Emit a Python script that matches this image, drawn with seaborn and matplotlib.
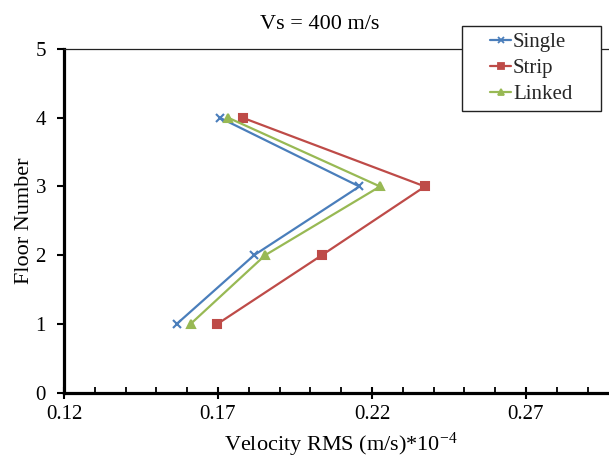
import matplotlib
matplotlib.use("Agg")
import matplotlib.pyplot as plt
from matplotlib.ticker import MultipleLocator
from matplotlib.patches import Rectangle
from matplotlib.lines import Line2D
import seaborn as sns
import pandas as pd

# ---- data ----
floors = [1, 2, 3, 4]
single = [0.1566, 0.1817, 0.2159, 0.1706]
strip = [0.1698, 0.2037, 0.2372, 0.1780]
linked = [0.1611, 0.1853, 0.2226, 0.1733]
series_names = ["Single", "Strip", "Linked"]
x_ticks = [0.12, 0.17, 0.22, 0.27]
x_tick_labels = ["0.12", "0.17", "0.22", "0.27"]
y_ticks = [0, 1, 2, 3, 4, 5]
title = "Vs = 400 m/s"
x_label = "Velocity RMS (m/s)*10$^{\\mathrm{-4}}$"
y_label = "Floor Number"

sns.set_theme(style="white")
plt.rcParams["font.family"] = ["Liberation Serif", "DejaVu Serif"]
plt.rcParams["mathtext.fontset"] = "custom"
plt.rcParams["mathtext.rm"] = "Liberation Serif"
plt.rcParams["mathtext.it"] = "Liberation Serif:italic"

W, H = 609, 459
fig = plt.figure(figsize=(W / 100, H / 100), dpi=100)
left, right, top, bottom = 64, 618.4, 49, 392.7
ax = fig.add_axes([left / W, 1 - bottom / H, (right - left) / W, (bottom - top) / H])

colors = {"Single": "#4A7EBB", "Strip": "#BE4B48", "Linked": "#98B954"}
markers = {"Single": "x", "Strip": "s", "Linked": "^"}
msizes = {"Single": 6, "Strip": 5.5, "Linked": 6}
values = {"Single": single, "Strip": strip, "Linked": linked}

for name in series_names:
    df = pd.DataFrame({"v": values[name], "floor": floors})
    sns.lineplot(data=df, x="v", y="floor", sort=False, ax=ax, color=colors[name],
                 marker=markers[name], markersize=msizes[name], markeredgewidth=1.5,
                 markeredgecolor=colors[name], linewidth=1.6, label=name, legend=False,
                 clip_on=False, zorder=3)

ax.set_xlim(0.12, 0.30)
ax.set_ylim(0, 5)
ax.set_xticks(x_ticks)
ax.set_xticklabels(x_tick_labels)
ax.xaxis.set_minor_locator(MultipleLocator(0.01))
ax.set_yticks(y_ticks)

for s in ["left", "bottom"]:
    ax.spines[s].set_linewidth(2.3)
    ax.spines[s].set_color("black")
ax.spines["top"].set_linewidth(0.9)
ax.spines["top"].set_color("#222222")
ax.spines["right"].set_visible(False)
ax.grid(False)

ax.tick_params(axis="x", which="major", direction="inout", length=9, width=1.5,
               color="black", labelsize=15, pad=4.5, labelcolor="black", bottom=True)
ax.tick_params(axis="x", which="minor", direction="in", length=4.5, width=1.3,
               color="black", bottom=True)
ax.tick_params(axis="y", which="major", direction="out", length=5, width=1.5,
               color="black", labelsize=15, pad=8, labelcolor="black", left=True)

ax.set_xlabel(x_label, fontsize=16, color="black")
ax.xaxis.set_label_coords(0.5, -0.11)
ax.set_ylabel(y_label, fontsize=16, color="black")
ax.yaxis.set_label_coords(-0.055, 0.5)

fig.text(320 / W, 1 - 29 / H, title, ha="center", va="baseline", fontsize=16, color="black")

# legend box
bx0, bx1, by0, by1 = 461.7, 601, 25.7, 110.7
fig.patches.append(Rectangle((bx0 / W, 1 - by1 / H), (bx1 - bx0) / W, (by1 - by0) / H,
                             transform=fig.transFigure, facecolor="white",
                             edgecolor="#222222", linewidth=1.0, zorder=5))
handles = [Line2D([], [], color=colors[n], marker=markers[n], markersize=msizes[n] - 1,
                  markeredgewidth=1.3, linewidth=1.6) for n in series_names]
leg = fig.legend(handles, series_names, loc="center", frameon=False,
                 bbox_to_anchor=((bx0 + bx1) / 2 / W, 1 - (by0 + by1) / 2 / H),
                 bbox_transform=fig.transFigure, fontsize=15, handlelength=1.0,
                 handletextpad=0.1, labelspacing=0.3, borderpad=0.2)
leg.set_zorder(6)

fig.savefig("out.png", dpi=100)
